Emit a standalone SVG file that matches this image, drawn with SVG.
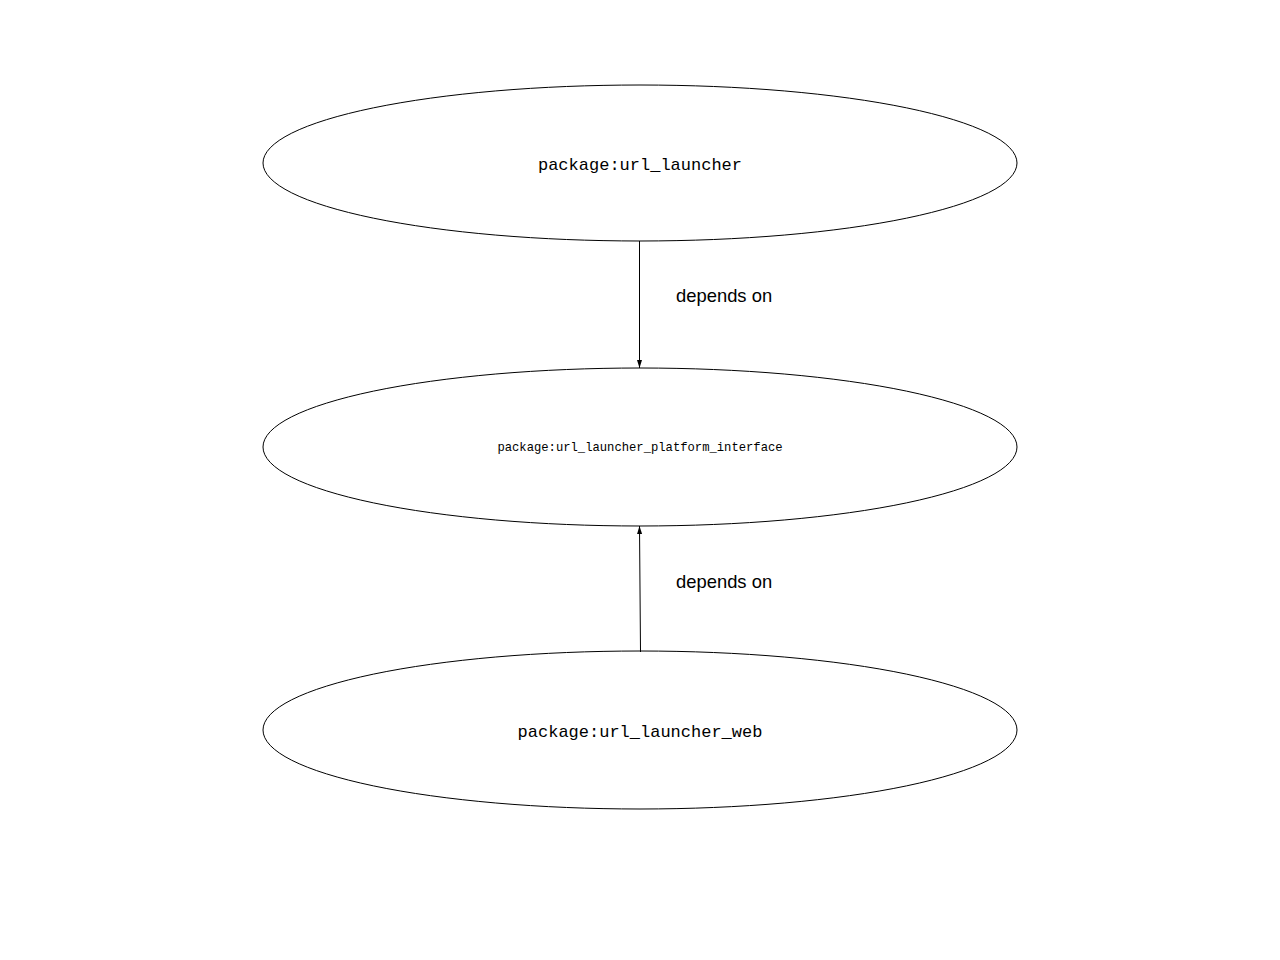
<svg xmlns="http://www.w3.org/2000/svg" width="1280" height="960" viewBox="0 0 1280 960">
<style>
.node{fill:#ffffff;stroke:#000000;stroke-width:1}
.mono{font-family:"Liberation Mono","DejaVu Sans Mono",monospace;fill:#000000;text-anchor:middle}
.lbl{font-family:"Liberation Sans",Arial,sans-serif;font-size:18.4px;fill:#000000}
.edge{stroke:#000000;stroke-width:1;fill:none}
</style>
<defs>
<marker id="arr" viewBox="0 0 8 8" refX="8" refY="4" markerWidth="8" markerHeight="8" markerUnits="userSpaceOnUse" orient="auto">
<path d="M0,1.5 L8,4 L0,6.5 Z" fill="#000000"/>
</marker>
</defs>
<rect width="1280" height="960" fill="#ffffff"/>
<g id="n1">
<ellipse class="node" cx="640" cy="163" rx="377" ry="78"/>
<text class="mono" x="640" y="170" font-size="17">package:url_launcher</text>
</g>
<g id="n2">
<ellipse class="node" cx="640" cy="447" rx="377" ry="79"/>
<text class="mono" x="640" y="451" font-size="12.2">package:url_launcher_platform_interface</text>
</g>
<g id="n3">
<ellipse class="node" cx="640" cy="730" rx="377" ry="79"/>
<text class="mono" x="640" y="737" font-size="17">package:url_launcher_web</text>
</g>
<g id="edges">
<line class="edge" x1="639.5" y1="241" x2="639.5" y2="368" marker-end="url(#arr)"/>
<text class="lbl" x="676" y="302">depends on</text>
<line class="edge" x1="640.5" y1="652" x2="639.5" y2="526" marker-end="url(#arr)"/>
<text class="lbl" x="676" y="588">depends on</text>
</g>
</svg>
